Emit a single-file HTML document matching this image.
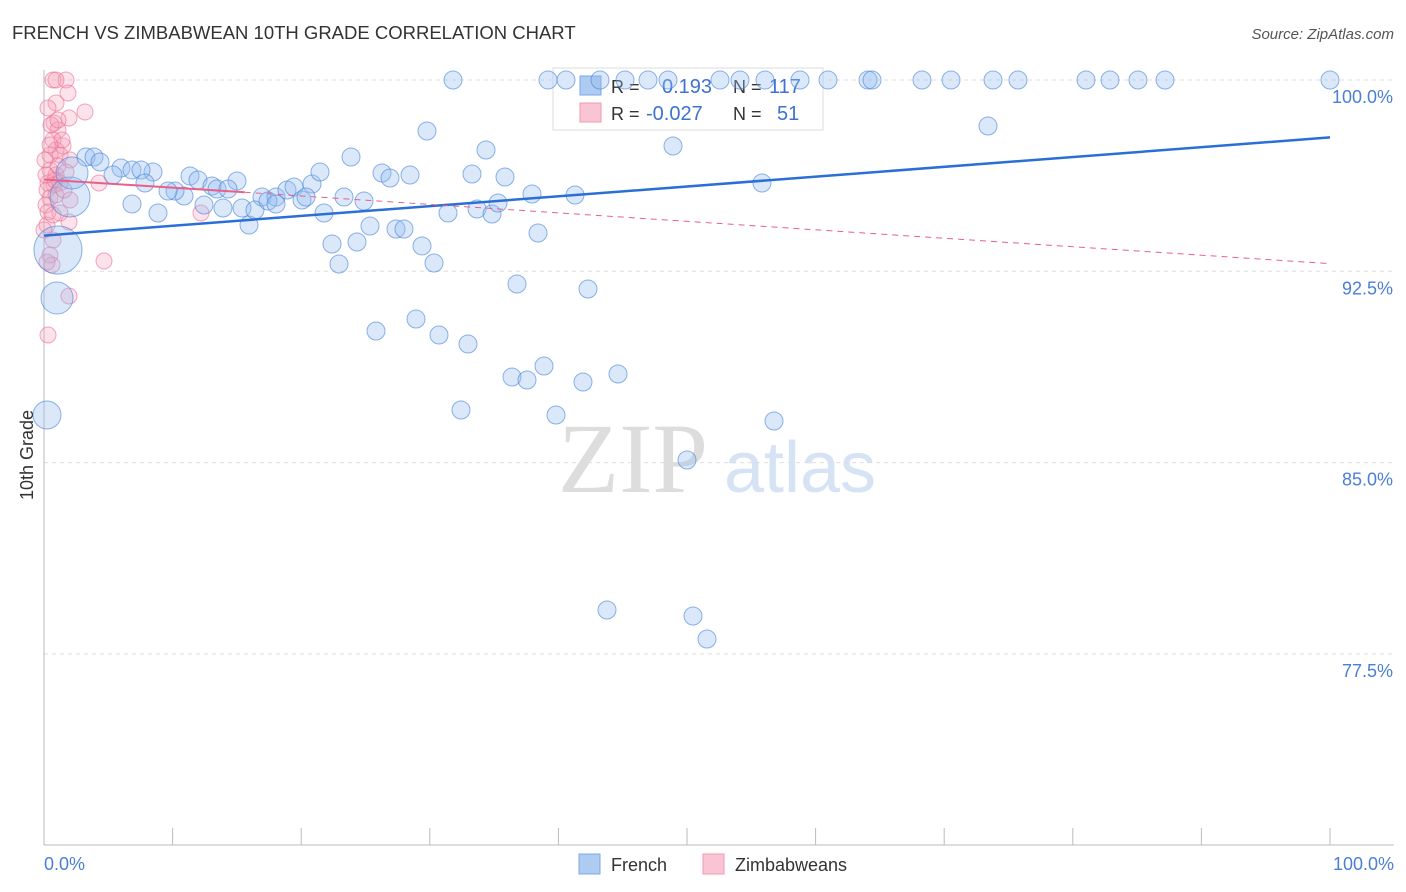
<!DOCTYPE html>
<html><head><meta charset="utf-8"><style>
body{margin:0;background:#fff;font-family:"Liberation Sans",sans-serif}
</style></head><body>
<svg id="c" width="1406" height="892" style="position:absolute;left:0;top:0">
<text x="12" y="39" font-size="18.5" fill="#333">FRENCH VS ZIMBABWEAN 10TH GRADE CORRELATION CHART</text>
<text x="1394" y="39" font-size="15" fill="#555" text-anchor="end" font-style="italic">Source: ZipAtlas.com</text>
<text x="633" y="492" font-size="100" fill="#ddd" font-family="Liberation Serif" text-anchor="middle">ZIP</text>
<text x="800" y="492" font-size="72" fill="#d6e3f5" text-anchor="middle">atlas</text>
<g id="grid"></g>
<g>
<rect x="553" y="68" width="270" height="62" fill="#fff" stroke="#ddd"/>
<rect x="580" y="76" width="21" height="19" fill="#aecbf2" stroke="#7ba7e6"/>
<rect x="580" y="103" width="21" height="19" fill="#f9c4d3" stroke="#f09ab2"/>
<text x="611" y="93" font-size="18" fill="#333">R =</text><text x="662" y="93" font-size="20" fill="#3d72d0">0.193</text>
<text x="733" y="93" font-size="18" fill="#333">N =</text><text x="769" y="93" font-size="20" fill="#3d72d0">117</text>
<text x="611" y="120" font-size="18" fill="#333">R =</text><text x="646" y="120" font-size="20" fill="#3d72d0">-0.027</text>
<text x="733" y="120" font-size="18" fill="#333">N =</text><text x="777" y="120" font-size="20" fill="#3d72d0">51</text>
</g>
<g id="pts"></g><g id="lines"></g>
<text transform="translate(33,455) rotate(-90)" font-size="18" fill="#333" text-anchor="middle">10th Grade</text>
<text x="44" y="870" font-size="18" fill="#4a7fd4">0.0%</text>
<text x="1394" y="870" font-size="18" fill="#4a7fd4" text-anchor="end">100.0%</text>
<g>
<rect x="579" y="854" width="21" height="20" fill="#aecbf2" stroke="#7ba7e6"/>
<text x="611" y="871" font-size="18" fill="#333">French</text>
<rect x="703" y="854" width="21" height="20" fill="#f9c4d3" stroke="#f09ab2"/>
<text x="735" y="871" font-size="18" fill="#333">Zimbabweans</text>
</g>
</svg>
<script>
const yTicks=[100,92.5,85,77.5];
const yTickLabels=["100.0%","92.5%","85.0%","77.5%"];
const frenchPx=[[453,80],[548,80],[566,80],[600,80],[625,80],[648,80],[668,80],[720,80],[740,80],[765,80],[800,80],[828,80],[868,80],[872,80],[922,80],[951,80],[993,80],[1018,80],[1086,80],[1110,80],[1138,80],[1165,80],[1330,80],[427,131],[988,126],[673,146],[486,150],[351,157],[86,157],[94,157],[100,162],[121,168],[132,170],[153,172],[141,170],[113,175],[145,183],[190,176],[198,180],[212,186],[237,181],[217,189],[228,189],[184,196],[175,191],[168,191],[262,197],[276,197],[287,190],[294,187],[312,184],[320,172],[382,173],[390,178],[410,175],[472,174],[505,177],[532,194],[575,195],[762,183],[132,204],[158,213],[204,205],[223,208],[242,208],[249,225],[255,210],[268,201],[276,204],[302,200],[306,197],[324,213],[344,197],[364,201],[448,213],[477,209],[492,214],[498,203],[370,226],[396,229],[404,229],[538,233],[332,244],[357,242],[422,246],[339,264],[434,263],[517,284],[588,289],[376,331],[416,319],[439,335],[468,344],[544,366],[512,377],[527,380],[583,382],[618,374],[461,410],[556,415],[774,421],[687,460],[607,610],[693,616],[707,639]];
const frenchBigPx=[[70,197,20],[58,250,24],[57,298,16],[47,415,14],[72,173,16]];
const zimPx=[[53,80],[66,80],[56,80],[68,93],[56,103],[85,112],[69,118],[54,123],[58,130],[53,140],[63,146],[56,150],[50,155],[60,155],[70,160],[50,170],[56,175],[48,183],[54,185],[47,190],[60,183],[50,198],[56,195],[46,205],[48,212],[70,200],[60,213],[69,222],[47,225],[53,240],[50,255],[52,265],[104,261],[69,296],[48,335],[99,183],[201,213],[55,180],[45,160],[62,140],[51,125],[48,108],[58,166],[64,190],[46,175],[50,145],[66,172],[53,215],[47,262],[44,230],[58,120]];
const toX=p=>(p-44)/12.86, toY=p=>100-(p-80)/191.3*7.5;
const french=frenchPx.map(p=>[toX(p[0]),toY(p[1]),9]).concat(frenchBigPx.map(p=>[toX(p[0]),toY(p[1]),p[2]]));
const zim=zimPx.map(p=>[toX(p[0]),toY(p[1]),8]);
const frenchTrend=[[0,93.9],[100,97.75]];
const zimTrend=[[0,96.1],[15.6,95.6],[100,92.8]];
const X=v=>44+v*12.86, Y=v=>80+(100-v)/7.5*191.3;
const NS="http://www.w3.org/2000/svg";
function mk(t,a,p){const e=document.createElementNS(NS,t);for(const k in a)e.setAttribute(k,a[k]);p.appendChild(e);return e;}
const g=document.getElementById('grid');
yTicks.forEach((t,i)=>{
 const l=mk('line',{x1:44,x2:1394,y1:Y(t),y2:Y(t),stroke:'#ddd','stroke-dasharray':'4,4'},g);
 
 
 const tx=mk('text',{x:1393,y:Y(t)+23,'font-size':18,fill:'#4a7fd4','text-anchor':'end'},g);
 tx.textContent=yTickLabels[i];
 
 
});
mk('line',{x1:44,x2:44,y1:70,y2:845,stroke:'#bbb'},g);
mk('line',{x1:44,x2:1394,y1:845,y2:845,stroke:'#bbb'},g);
for(let i=0;i<=10;i++){const t=mk('line',{x1:X(i*10),x2:X(i*10),y1:828,y2:845,stroke:'#bbb'},g);
 
 }
const P=document.getElementById('pts');
zim.forEach(d=>{const c=mk('circle',{cx:X(d[0]),cy:Y(d[1]),r:d[2],fill:'rgba(246,160,185,0.3)',stroke:'rgba(236,110,145,0.6)'},P);
 
 });
french.forEach(d=>{const c=mk('circle',{cx:X(d[0]),cy:Y(d[1]),r:d[2],fill:'rgba(150,190,240,0.35)',stroke:'rgba(70,130,215,0.6)'},P);
 
 });
const L=document.getElementById('lines');
const b=mk('line',{x1:X(frenchTrend[0][0]),y1:Y(frenchTrend[0][1]),x2:X(frenchTrend[1][0]),y2:Y(frenchTrend[1][1]),stroke:'#2a6fd6','stroke-width':2.5},L);


const p1=mk('line',{x1:X(zimTrend[0][0]),y1:Y(zimTrend[0][1]),x2:X(zimTrend[1][0]),y2:Y(zimTrend[1][1]),stroke:'#e8608a','stroke-width':2},L);


const p2=mk('line',{x1:X(zimTrend[1][0]),y1:Y(zimTrend[1][1]),x2:X(zimTrend[2][0]),y2:Y(zimTrend[2][1]),stroke:'#e8608a','stroke-width':1,'stroke-dasharray':'6,5'},L);


</script>
</body></html>
